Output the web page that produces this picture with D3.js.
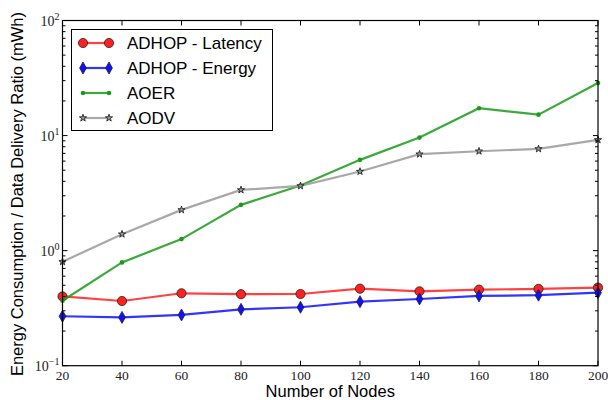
<!DOCTYPE html>
<html><head><meta charset="utf-8">
<script src="https://cdn.jsdelivr.net/npm/d3@7/dist/d3.min.js"></script>
<style>body{margin:0;background:#fff}</style>
</head><body>
<svg id="c" width="608" height="400"></svg>
<script>
const nodes = [20, 40, 60, 80, 100, 120, 140, 160, 180, 200];
const latency = [0.40, 0.365, 0.426, 0.418, 0.42, 0.467, 0.443, 0.458, 0.465, 0.477];
const energy = [0.269, 0.263, 0.276, 0.309, 0.322, 0.36, 0.38, 0.404, 0.41, 0.431];
const aoer = [0.367, 0.79, 1.26, 2.5, 3.68, 6.15, 9.6, 17.3, 15.2, 28.6];
const aodv = [0.80, 1.39, 2.26, 3.37, 3.65, 4.87, 6.89, 7.31, 7.66, 9.18];
const seriesNames = ["ADHOP - Latency", "ADHOP - Energy", "AOER", "AODV"];
const yTicks = [0.1, 1, 10, 100];
const yTickExp = ["\u22121", "0", "1", "2"];

const svg = d3.select("#c");
const m = {l: 62.5, r: 598, t: 20.5, b: 365.7};
const x = d3.scaleLinear().domain([20, 200]).range([m.l, m.r]);
const y = d3.scaleLog().domain([0.1, 100]).range([m.b, m.t]);

const series = [
  {name: seriesNames[0], vals: latency, color: "#ff2020", marker: "circle"},
  {name: seriesNames[1], vals: energy, color: "#1010ff", marker: "diamond"},
  {name: seriesNames[2], vals: aoer, color: "#1a9a1a", marker: "dot"},
  {name: seriesNames[3], vals: aodv, color: "#999999", marker: "star"}
];

const line = d3.line().x((d, i) => x(nodes[i])).y(d => y(d));

function drawMarker(g, type, color) {
  if (type === "circle") {
    g.append("circle").attr("r", 4.6).attr("fill", color).attr("stroke", "#222").attr("stroke-width", 0.8);
  } else if (type === "diamond") {
    g.append("path").attr("d", "M0,-6L3.4,0L0,6L-3.4,0Z").attr("fill", color).attr("stroke", "#222").attr("stroke-width", 0.8);
  } else if (type === "dot") {
    g.append("circle").attr("r", 2.3).attr("fill", color);
  } else if (type === "star") {
    g.append("path").attr("d", d3.symbol(d3.symbolStar, 16)()).attr("fill", color).attr("stroke", "#222").attr("stroke-width", 0.9);
  }
}

// lines and markers
series.forEach(s => {
  svg.append("path").datum(s.vals).attr("d", line).attr("fill", "none")
    .attr("stroke", s.color).attr("stroke-width", 2.2).attr("stroke-opacity", 0.85);
  s.vals.forEach((v, i) => {
    const g = svg.append("g").attr("transform", `translate(${x(nodes[i])},${y(v)})`);
    drawMarker(g, s.marker, s.color);
  });
});

// frame
svg.append("rect").attr("x", m.l).attr("y", m.t).attr("width", m.r - m.l).attr("height", m.b - m.t)
  .attr("fill", "none").attr("stroke", "#000").attr("stroke-width", 1.2);

// ticks
const tg = svg.append("g").attr("stroke", "#000").attr("stroke-width", 1);
nodes.forEach(n => {
  tg.append("line").attr("x1", x(n)).attr("x2", x(n)).attr("y1", m.b).attr("y2", m.b - 5);
  tg.append("line").attr("x1", x(n)).attr("x2", x(n)).attr("y1", m.t).attr("y2", m.t + 5);
});
const minor = [];
[0.1, 1, 10].forEach(d => { for (let k = 2; k <= 9; k++) minor.push(d * k); });
yTicks.forEach(v => {
  tg.append("line").attr("x1", m.l).attr("x2", m.l + 5).attr("y1", y(v)).attr("y2", y(v));
  tg.append("line").attr("x1", m.r).attr("x2", m.r - 5).attr("y1", y(v)).attr("y2", y(v));
});
minor.forEach(v => {
  tg.append("line").attr("x1", m.l).attr("x2", m.l + 3).attr("y1", y(v)).attr("y2", y(v));
  tg.append("line").attr("x1", m.r).attr("x2", m.r - 3).attr("y1", y(v)).attr("y2", y(v));
});

// tick labels
const serif = "'Liberation Serif', 'DejaVu Serif', serif";
nodes.forEach(n => {
  svg.append("text").attr("x", x(n)).attr("y", 380).attr("text-anchor", "middle")
    .attr("font-family", serif).attr("font-size", 13.5).attr("fill", "#222").text(n);
});
yTicks.forEach((v, i) => {
  const t = svg.append("text").attr("x", m.l - 3).attr("y", y(v) + 5).attr("text-anchor", "end")
    .attr("font-family", serif).attr("font-size", 14).attr("fill", "#222");
  t.append("tspan").text("10");
  t.append("tspan").attr("dy", -6).attr("font-size", 10).text(yTickExp[i]);
});

// axis labels
const sans = "'Liberation Sans', Arial, sans-serif";
svg.append("text").attr("x", (m.l + m.r) / 2).attr("y", 397).attr("text-anchor", "middle")
  .attr("font-family", sans).attr("font-size", 16.5).text("Number of Nodes");
svg.append("text").attr("transform", `translate(23,${(m.t + m.b) / 2 + 1}) rotate(-90)`)
  .attr("text-anchor", "middle").attr("font-family", sans).attr("font-size", 16.5)
  .text("Energy Consumption / Data Delivery Ratio (mWh)");

// legend
const lg = svg.append("g");
lg.append("rect").attr("x", 71.5).attr("y", 29.5).attr("width", 201).attr("height", 101)
  .attr("fill", "#fff").attr("stroke", "#000").attr("stroke-width", 1);
series.forEach((s, i) => {
  const yy = 43 + i * 25;
  lg.append("line").attr("x1", 83).attr("x2", 109).attr("y1", yy).attr("y2", yy)
    .attr("stroke", s.color).attr("stroke-width", 2.2).attr("stroke-opacity", 0.85);
  [83, 109].forEach(xx => {
    const g = lg.append("g").attr("transform", `translate(${xx},${yy})`);
    drawMarker(g, s.marker, s.color);
  });
  lg.append("text").attr("x", 127).attr("y", yy + 6).attr("font-family", sans).attr("font-size", 17)
    .text(s.name);
});
</script>
</body></html>
